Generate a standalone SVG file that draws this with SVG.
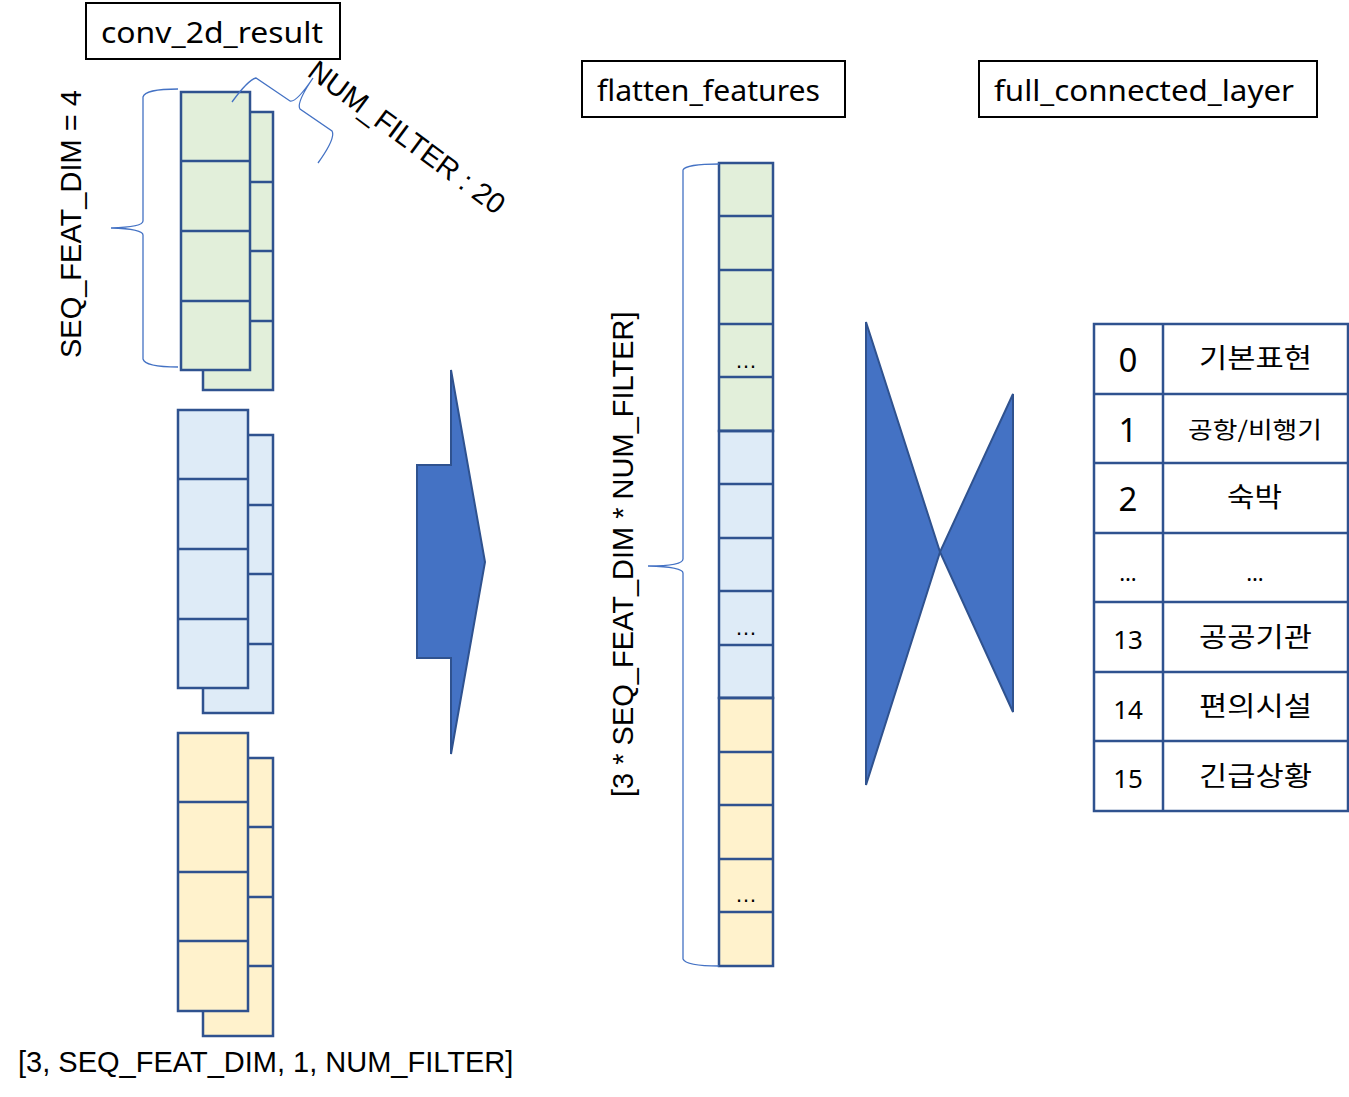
<svg xmlns="http://www.w3.org/2000/svg" width="1349" height="1097" viewBox="0 0 1349 1097">
<style>
.cell{stroke:#2F528F;stroke-width:2.5}
.g{fill:#E2EFDA}.b{fill:#DEEBF7}.y{fill:#FFF2CC}
.line{stroke:#2F528F;stroke-width:2.5;fill:none}
.brace{stroke:#4472C4;stroke-width:1.3;fill:none}
.lbl{font-family:"Liberation Sans",Arial,sans-serif;font-size:29px;fill:#000}
.ttl{font-family:"Noto Sans","Liberation Sans",sans-serif;font-size:29px;fill:#000}
.box{fill:#fff;stroke:#000;stroke-width:2}
.shape{fill:#4472C4;stroke:#2F528F;stroke-width:2}
.kr{font-family:"Noto Sans CJK KR","Noto Sans",sans-serif;fill:#000}
.num{font-family:"Noto Sans","Noto Sans CJK KR",sans-serif;fill:#000;text-anchor:middle}
.dots{font-family:"Liberation Sans",sans-serif;font-size:22px;fill:#000;text-anchor:middle}
</style>

<g id="title-conv">
<rect class="box" x="86" y="3" width="254" height="56"/>
<text class="ttl" x="101" y="43" textLength="222" lengthAdjust="spacingAndGlyphs">conv_2d_result</text>
</g>
<g id="title-flatten">
<rect class="box" x="582" y="61" width="263" height="56"/>
<text class="ttl" x="597" y="101" textLength="223" lengthAdjust="spacingAndGlyphs">flatten_features</text>
</g>
<g id="title-fc">
<rect class="box" x="979" y="61" width="338" height="56"/>
<text class="ttl" x="994" y="101" textLength="300" lengthAdjust="spacingAndGlyphs">full_connected_layer</text>
</g>

<g id="conv-green">
<rect class="cell g" x="203" y="112" width="70" height="278"/>
<path class="line" d="M250,182H273M250,251H273M250,321H273"/>
<rect class="cell g" x="181" y="92" width="69" height="278"/>
<path class="line" d="M181,161H250M181,231H250M181,301H250"/>
</g>
<g id="conv-blue">
<rect class="cell b" x="203" y="435" width="70" height="278"/>
<path class="line" d="M248,505H273M248,574H273M248,644H273"/>
<rect class="cell b" x="178" y="410" width="70" height="278"/>
<path class="line" d="M178,479H248M178,549H248M178,619H248"/>
</g>
<g id="conv-yellow">
<rect class="cell y" x="203" y="758" width="70" height="278"/>
<path class="line" d="M248,827H273M248,897H273M248,966H273"/>
<rect class="cell y" x="178" y="733" width="70" height="278"/>
<path class="line" d="M178,802H248M178,872H248M178,941H248"/>
</g>

<g id="brace-seq">
<path class="brace" d="M178,89 Q145,89 143,97 L143,221 Q143,227 111,228 Q143,229 143,235 L143,359 Q145,367 178,367"/>
<text class="lbl" transform="translate(81,358) rotate(-90)">SEQ_FEAT_DIM = 4</text>
</g>

<g id="brace-numfilter">
<path class="brace" d="M232,102 Q248,80 256,78 L290,101 Q296,103 313,78 Q296,103 300,109 L332,131 Q336,138 318,163"/>
<text class="lbl" transform="translate(306,75) rotate(36.5)">NUM_FILTER : 20</text>
</g>

<g id="arrow">
<polygon class="shape" points="417,465 451,465 451,370 485,562 451,754 451,658 417,658"/>
</g>

<g id="flatten">
<rect class="cell g" x="719" y="163" width="54" height="268"/>
<rect class="cell b" x="719" y="431" width="54" height="267"/>
<rect class="cell y" x="719" y="698" width="54" height="268"/>
<path class="line" d="M719,216H773M719,270H773M719,324H773M719,377H773M719,431H773M719,484H773M719,538H773M719,591H773M719,645H773M719,698H773M719,752H773M719,805H773M719,859H773M719,912H773"/>
<text class="dots" x="746" y="368">…</text>
<text class="dots" x="746" y="635">…</text>
<text class="dots" x="746" y="902">…</text>
</g>

<g id="brace-flatten">
<path class="brace" d="M719,164 Q686,164 683,170 L683,559 Q683,566 648,566 Q683,567 683,573 L683,959 Q686,966 719,966"/>
<text class="lbl" transform="translate(633,797) rotate(-90)">[3 * SEQ_FEAT_DIM * NUM_FILTER]</text>
</g>

<g id="fc-shape">
<polygon class="shape" points="866,322 940,552 866,785"/>
<polygon class="shape" points="1013,394 940,552 1013,712"/>
</g>

<g id="table">
<rect x="1094" y="324" width="254" height="487" fill="#fff" stroke="#2F528F" stroke-width="2.5"/>
<path class="line" d="M1163,324V811M1094,394H1348M1094,463H1348M1094,533H1348M1094,602H1348M1094,672H1348M1094,741H1348"/>
<text class="num" x="1128" y="372" font-size="33">0</text>
<text class="num" x="1128" y="442" font-size="33">1</text>
<text class="num" x="1128" y="511" font-size="33">2</text>
<text class="num" x="1128" y="581" font-size="22">…</text>
<text class="num" x="1128" y="649" font-size="26">13</text>
<text class="num" x="1128" y="719" font-size="26">14</text>
<text class="num" x="1128" y="788" font-size="26">15</text>
<text class="kr" x="1199" y="368" font-size="27" textLength="113" lengthAdjust="spacingAndGlyphs">기본표현</text>
<text class="kr" x="1188" y="438" font-size="23" textLength="134" lengthAdjust="spacingAndGlyphs">공항/비행기</text>
<text class="kr" x="1227" y="507" font-size="27" textLength="55" lengthAdjust="spacingAndGlyphs">숙박</text>
<text class="num" x="1255" y="581" font-size="22">…</text>
<text class="kr" x="1199" y="647" font-size="27" textLength="113" lengthAdjust="spacingAndGlyphs">공공기관</text>
<text class="kr" x="1199" y="716" font-size="27" textLength="113" lengthAdjust="spacingAndGlyphs">편의시설</text>
<text class="kr" x="1199" y="786" font-size="27" textLength="113" lengthAdjust="spacingAndGlyphs">긴급상황</text>
</g>

<g id="bottom-label">
<text class="lbl" x="18" y="1072">[3, SEQ_FEAT_DIM, 1, NUM_FILTER]</text>
</g>
</svg>
